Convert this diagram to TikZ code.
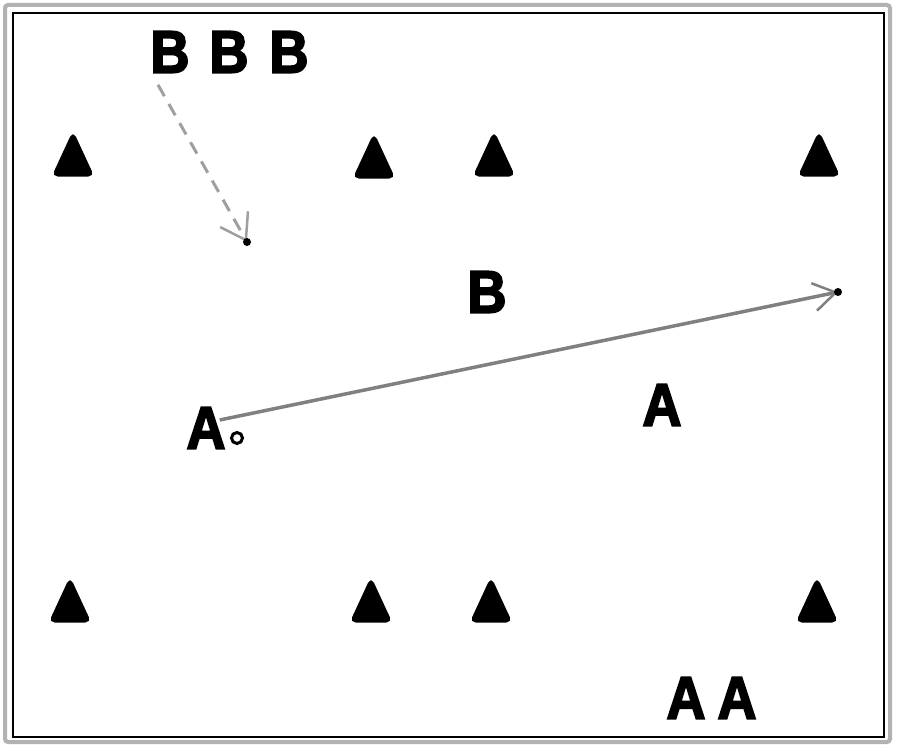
\documentclass[tikz,border=0pt]{standalone}
\usepackage{fontspec}
\setmainfont{Liberation Sans}
\newfontfamily\playerfont{Liberation Sans Bold}[FakeBold=3, FakeStretch=0.9]
\usepackage{xcolor}
\usetikzlibrary{arrows.meta}

\begin{document}
\begin{tikzpicture}[
  x=1pt, y=-1pt,
  player/.style={font=\fontsize{60}{60}\playerfont, inner sep=0pt},
  cone/.style={fill=black, draw=black, line width=3pt, rounded corners=4pt},
  run/.style={draw=gray!75, line width=3pt, dash pattern=on 13pt off 9pt,
    -{Straight Barb[length=24pt, width=32pt, line width=2.5pt]}},
  pass/.style={draw=gray, line width=3.5pt,
    -{Straight Barb[length=22pt, width=28pt, line width=2.5pt]}},
]
  \useasboundingbox (0,0) rectangle (900,752);

  % --- frame ---
  \draw[gray!60, line width=4pt, rounded corners=3pt] (5,5) rectangle (890,742);
  \draw[line width=1.2pt] (13,13) rectangle (884,737);

  % --- cones ---
  \foreach \x/\y in {73/175, 374/177, 494/175, 819/175,
                     70/621, 371/621, 491/621, 817/621} {
    \filldraw[cone] (\x-19,\y) -- (\x,\y-41) -- (\x+19,\y) -- cycle;
  }

  % --- players ---
  \node[player] (b1) at (170,52) {B};
  \node[player] (b2) at (229,52) {B};
  \node[player] (b3) at (289,52) {B};
  \node[player] (b4) at (487,292) {B};

  \node[player] (a1) at (206,428) {A};
  \node[player] (a2) at (662,405) {A};
  \node[player] (a3) at (686,698) {A};
  \node[player] (a4) at (737,698) {A};

  \node[circle, draw, line width=3pt, minimum size=11pt, inner sep=0pt] (ball) at (237,438) {};

  % --- movements ---
  \coordinate (runend) at (247,242);
  \coordinate (passend) at (838,292);

  \draw[run] ([shift={(-12,12)}]b1.south) -- (runend);
  \fill (runend) circle (4);

  \draw[pass] ([shift={(-6,-8)}]a1.east) -- (passend);
  \fill (passend) circle (4);
\end{tikzpicture}
\end{document}
